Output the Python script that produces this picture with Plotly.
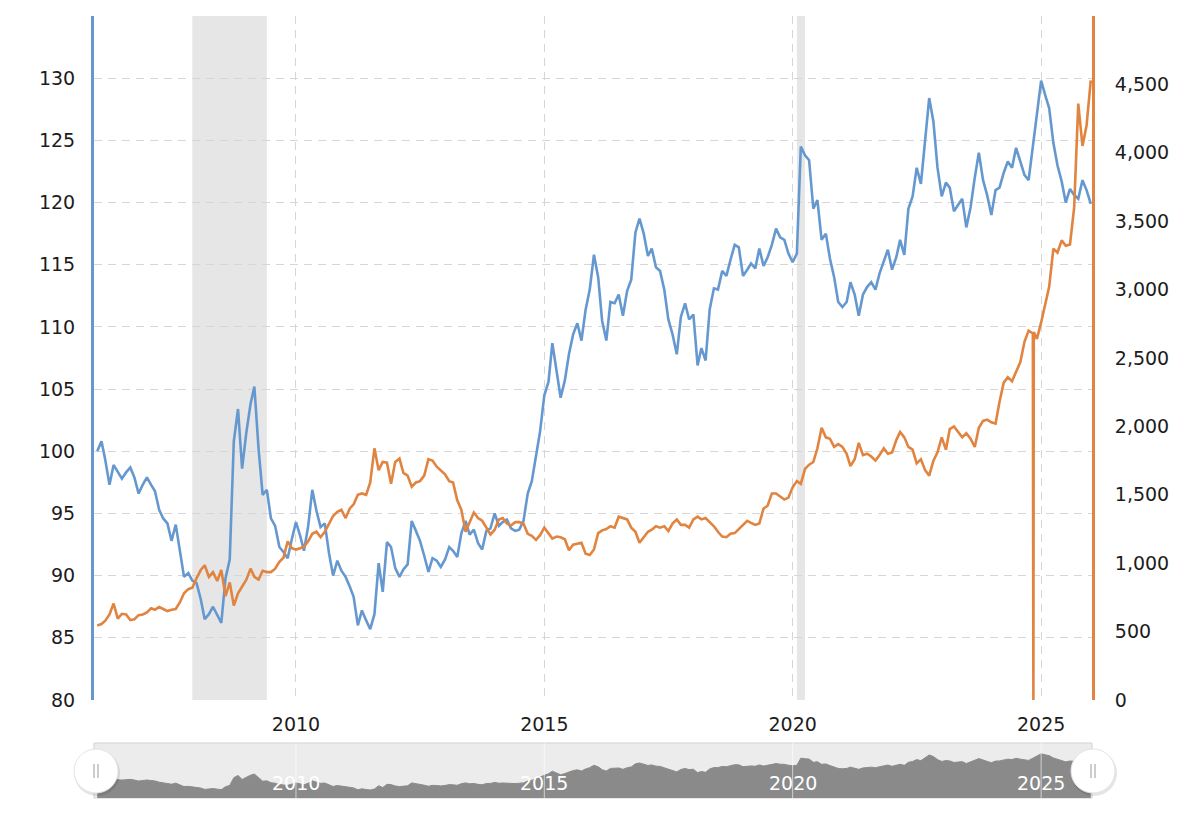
import pandas as pd
import plotly.graph_objects as go

# ---------------- data (monthly, Jan 2006 .. Jan 2026) ----------------
start_month = "2006-01-01"

dollar_index = [
    # 2006
    100.0, 100.8, 99.3, 97.3, 98.9, 98.3, 97.8, 98.3, 98.7, 97.9, 96.6, 97.3,
    # 2007
    97.9, 97.3, 96.8, 95.3, 94.6, 94.2, 92.8, 94.1, 92.0, 89.9, 90.2, 89.6,
    # 2008
    89.4, 88.1, 86.5, 86.9, 87.5, 86.8, 86.2, 89.8, 91.3, 100.8, 103.4, 98.6,
    # 2009
    101.5, 103.8, 105.2, 100.2, 96.5, 96.9, 94.6, 94.0, 92.3, 91.9, 91.4, 92.9,
    # 2010
    94.3, 93.2, 92.0, 94.0, 96.9, 95.2, 93.9, 94.2, 91.8, 90.0, 91.2, 90.4,
    # 2011
    89.9, 89.1, 88.3, 86.0, 87.2, 86.4, 85.7, 86.9, 91.0, 88.7, 92.7, 92.3,
    # 2012
    90.6, 89.9, 90.5, 90.9, 94.4, 93.6, 92.8, 91.6, 90.3, 91.4, 91.2, 90.7,
    # 2013
    91.3, 92.3, 92.0, 91.5, 93.4, 94.4, 93.3, 93.7, 92.6, 92.1, 93.6, 93.8,
    # 2014
    95.0, 94.0, 94.3, 94.5, 93.8, 93.6, 93.7, 94.4, 96.6, 97.6, 99.6, 101.6,
    # 2015
    104.5, 105.6, 108.7, 106.6, 104.3, 105.7, 107.8, 109.4, 110.3, 108.9, 111.4, 113.0,
    # 2016
    115.8, 114.0, 110.5, 108.9, 112.0, 111.9, 112.6, 110.9, 112.9, 113.8, 117.6, 118.7,
    # 2017
    117.5, 115.7, 116.3, 114.8, 114.5, 113.0, 110.6, 109.4, 107.8, 110.8, 111.9, 110.6,
    # 2018
    111.0, 106.9, 108.3, 107.3, 111.4, 113.1, 113.0, 114.5, 114.1, 115.4, 116.6, 116.4,
    # 2019
    114.1, 114.6, 115.1, 114.7, 116.3, 114.9, 115.6, 116.6, 117.9, 117.2, 117.0, 115.9,
    # 2020
    115.2, 115.9, 124.5, 123.8, 123.4, 119.5, 120.2, 117.0, 117.5, 115.5, 114.0, 112.0,
    # 2021
    111.6, 112.0, 113.6, 112.6, 110.9, 112.6, 113.2, 113.6, 113.0, 114.3, 115.2, 116.2,
    # 2022
    114.6, 115.6, 117.0, 115.8, 119.5, 120.5, 122.8, 121.5, 125.0, 128.4, 126.5, 122.8,
    # 2023
    120.5, 121.6, 121.2, 119.3, 119.8, 120.3, 118.0, 119.6, 122.0, 124.0, 121.8, 120.6,
    # 2024
    119.0, 121.0, 121.2, 122.4, 123.3, 122.8, 124.4, 123.3, 122.2, 121.8, 124.5, 127.5,
    # 2025
    129.8, 128.6, 127.6, 124.8, 123.0, 121.7, 120.0, 121.1, 120.6, 120.3, 121.8, 121.0,
    # 2026
    119.9,
]

gold_price = [
    # 2006
    545, 555, 580, 625, 705, 595, 630, 625, 585, 590, 620, 625,
    # 2007
    640, 670, 660, 680, 665, 650, 660, 665, 715, 780, 810, 820,
    # 2008
    890, 950, 985, 900, 935, 870, 950, 760, 860, 690, 780, 830,
    # 2009
    880, 960, 900, 880, 945, 935, 935, 960, 1010, 1040, 1160, 1110,
    # 2010
    1100, 1110, 1120, 1160, 1215, 1230, 1190, 1230, 1290, 1345, 1375, 1390,
    # 2011
    1330, 1400, 1430, 1500, 1510, 1500, 1590, 1840, 1680, 1740, 1735, 1580,
    # 2012
    1740, 1765, 1660, 1640, 1560, 1590, 1600, 1640, 1760, 1750, 1705, 1680,
    # 2013
    1650, 1600, 1590, 1460, 1390, 1230, 1300, 1370, 1330, 1310, 1260, 1210,
    # 2014
    1245, 1320, 1330, 1290, 1275, 1300, 1300, 1290, 1215, 1200, 1170, 1205,
    # 2015
    1260, 1215, 1180, 1195, 1190, 1175, 1095, 1135, 1140, 1150, 1070, 1060,
    # 2016
    1100, 1220, 1240, 1250, 1270, 1260, 1340, 1330, 1320, 1260, 1230, 1150,
    # 2017
    1190, 1230, 1245, 1270, 1260, 1270, 1235, 1290, 1320, 1280, 1280, 1260,
    # 2018
    1320, 1340, 1320, 1330, 1300, 1270, 1230, 1195, 1190, 1215, 1220, 1250,
    # 2019
    1285, 1310, 1295, 1280, 1290, 1400, 1420, 1510, 1510, 1490, 1465, 1480,
    # 2020
    1555, 1600, 1580, 1690, 1720, 1740, 1840, 1990, 1920, 1910, 1850, 1870,
    # 2021
    1850, 1800, 1710, 1760, 1880, 1790, 1800, 1780, 1750, 1790, 1840, 1800,
    # 2022
    1810, 1900, 1960, 1920, 1850, 1830, 1730, 1760, 1680, 1640, 1750, 1810,
    # 2023
    1920, 1830, 1980, 2000, 1960, 1920, 1950, 1910, 1850, 1990, 2040, 2050,
    # 2024
    2030, 2020, 2180, 2320, 2360, 2330, 2400, 2470, 2620, 2700, 2680, 2640,
    # 2025
    2760, 2900, 3020, 3300, 3270, 3360, 3320, 3330, 3600, 4360, 4050, 4200,
    # 2026
    4530,
]

# a bad data print in the gold series (drops to zero)
gold_glitch_dates = ["2024-11-05", "2024-11-08"]
gold_glitch_values = [0, 2690]

recession_starts = ["2007-12-01", "2020-02-01"]
recession_ends = ["2009-06-01", "2020-04-01"]

year_ticks = ["2010-01-01", "2015-01-01", "2020-01-01", "2025-01-01"]
year_labels = ["2010", "2015", "2020", "2025"]

left_ticks = [80, 85, 90, 95, 100, 105, 110, 115, 120, 125, 130, 135]
left_labels = ["80", "85", "90", "95", "100", "105", "110", "115", "120", "125", "130", ""]
right_ticks = [0, 500, 1000, 1500, 2000, 2500, 3000, 3500, 4000, 4500]
right_labels = ["0", "500", "1,000", "1,500", "2,000", "2,500", "3,000", "3,500", "4,000", "4,500"]

# ---------------- build ----------------
BLUE = "#6698d0"
ORANGE = "#e0843f"
GRID = "#d6d6d6"
FONT = "DejaVu Sans"
TXT = "#1c1c1c"
FS = 19

dates = pd.date_range(start_month, periods=len(dollar_index), freq="MS")
gold_df = pd.concat([
    pd.DataFrame({"d": dates, "v": gold_price}),
    pd.DataFrame({"d": pd.to_datetime(gold_glitch_dates), "v": gold_glitch_values}),
]).sort_values("d")

x_range = ["2005-12-08", "2026-01-10"]

fig = go.Figure()
fig.add_trace(go.Scatter(x=dates, y=dollar_index, mode="lines", xaxis="x", yaxis="y",
                         line=dict(color=BLUE, width=2.6), hoverinfo="skip", showlegend=False))
fig.add_trace(go.Scatter(x=gold_df["d"], y=gold_df["v"], mode="lines", xaxis="x", yaxis="y2",
                         line=dict(color=ORANGE, width=2.6), hoverinfo="skip", showlegend=False))
# navigator series
fig.add_trace(go.Scatter(x=dates, y=dollar_index, mode="lines", xaxis="x2", yaxis="y3",
                         fill="tozeroy", fillcolor="#8a8a8a",
                         line=dict(color="#8a8a8a", width=1), hoverinfo="skip", showlegend=False))

H = 838
plot_top, plot_bottom = 16, 798
main_bottom, nav_top = 700, 743
span = plot_bottom - plot_top
main_dom = [(plot_bottom - main_bottom) / span, 1]
nav_dom = [0, (plot_bottom - nav_top) / span]

dash = "8px,6px"

fig.update_layout(
    width=1200, height=H,
    margin=dict(l=94, r=108, t=plot_top, b=H - plot_bottom),
    paper_bgcolor="white", plot_bgcolor="white",
    font=dict(family=FONT, size=FS, color=TXT),
    xaxis=dict(domain=[0, 1], anchor="y", type="date", range=x_range,
               tickvals=year_ticks, ticktext=year_labels, ticks="",
               ticklabelstandoff=11,
               showgrid=True, gridcolor=GRID, griddash=dash, gridwidth=1,
               showline=False, zeroline=False,
               tickfont=dict(family=FONT, size=FS, color=TXT)),
    yaxis=dict(domain=main_dom, anchor="x", range=[80, 135],
               tickvals=left_ticks, ticktext=left_labels, ticks="",
               ticklabelstandoff=12,
               showgrid=True, gridcolor=GRID, griddash=dash, gridwidth=1,
               showline=True, linecolor=BLUE, linewidth=3, zeroline=False,
               tickfont=dict(family=FONT, size=FS, color=TXT)),
    yaxis2=dict(overlaying="y", side="right", anchor="x", range=[0, 5000],
                tickvals=right_ticks, ticktext=right_labels, ticks="",
                ticklabelstandoff=16,
                showgrid=False, showline=True, linecolor=ORANGE, linewidth=3, zeroline=False,
                tickfont=dict(family=FONT, size=FS, color=TXT)),
    xaxis2=dict(domain=[0, 1], anchor="y3", type="date", range=x_range,
                showticklabels=False, showgrid=False, zeroline=False, showline=False),
    yaxis3=dict(domain=nav_dom, anchor="x2", range=[76, 143],
                showticklabels=False, showgrid=False, zeroline=False, showline=False),
)

shapes = []
for s, e in zip(recession_starts, recession_ends):
    shapes.append(dict(type="rect", xref="x", yref="y domain", x0=s, x1=e, y0=0, y1=1,
                       fillcolor="#e6e6e6", line=dict(width=0), layer="below"))
# navigator background
shapes.append(dict(type="rect", xref="x2 domain", yref="y3 domain", x0=0, x1=1, y0=0, y1=1,
                   fillcolor="#ececec", line=dict(color="#d2d2d2", width=1), layer="below"))
# navigator year lines
for t in year_ticks:
    shapes.append(dict(type="line", xref="x2", yref="y3 domain", x0=t, x1=t, y0=0, y1=1,
                       line=dict(color="rgba(255,255,255,0.6)", width=1), layer="above"))
# navigator handles
hy = (plot_bottom - 771) / span
for hx in [(96 - 94) / 998, (1093 - 94) / 998]:
    shapes.append(dict(type="circle", xref="paper", yref="paper", xsizemode="pixel", ysizemode="pixel",
                       xanchor=hx, yanchor=hy, x0=-22, x1=24, y0=-25, y1=21,
                       fillcolor="rgba(0,0,0,0.10)", line=dict(width=0)))
    shapes.append(dict(type="circle", xref="paper", yref="paper", xsizemode="pixel", ysizemode="pixel",
                       xanchor=hx, yanchor=hy, x0=-22, x1=22, y0=-22, y1=22,
                       fillcolor="white", line=dict(color="#e4e4e4", width=1)))
    for gx in (-2, 2):
        shapes.append(dict(type="line", xref="paper", yref="paper", xsizemode="pixel", ysizemode="pixel",
                           xanchor=hx, yanchor=hy, x0=gx, x1=gx, y0=-7, y1=7,
                           line=dict(color="#9a9a9a", width=1)))
fig.update_layout(shapes=shapes)

annotations = []
for t, lab in zip(year_ticks, year_labels):
    annotations.append(dict(xref="x2", yref="y3 domain", x=t, y=0.27, text=lab, showarrow=False,
                            font=dict(family=FONT, size=FS, color="white"), xanchor="center",
                            yanchor="middle"))
fig.update_layout(annotations=annotations)

fig.write_html("out.html")
